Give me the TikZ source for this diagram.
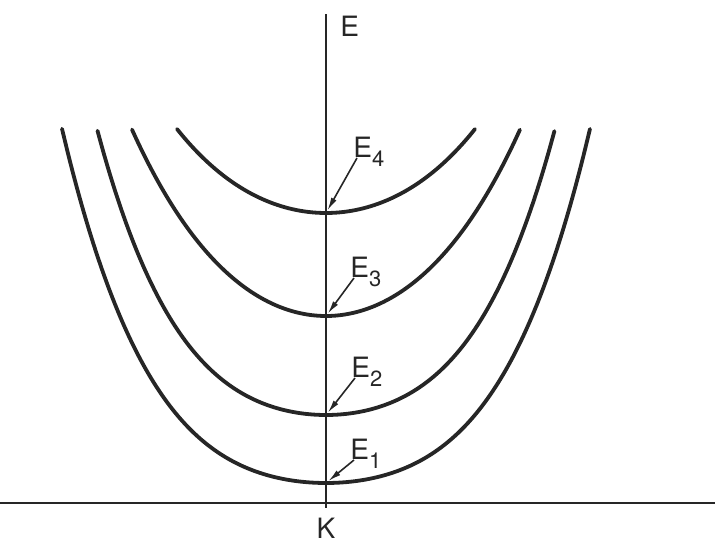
\documentclass[tikz,border=0pt]{standalone}
\usepackage{fontspec}
\setmainfont{TeX Gyre Heros}
\usepackage{tikz}
\usetikzlibrary{arrows.meta, positioning}
\newcommand{\lvl}[1]{E\raisebox{-4.5pt}{\fontsize{11pt}{12pt}\selectfont #1}}
\tikzset{
	band/.style ={line width=1.9pt, black!85, line cap=round},
	axis/.style ={line width=1.1pt, black!85},
	lbl/.style  ={font=\fontsize{14pt}{16pt}\selectfont, inner sep=1pt, anchor=base west, text=black!85},
	ptr/.style  ={-{Latex[length=6.5pt, width=3pt]}, line width=0.8pt, black!85, shorten >=1.5pt},
}
\begin{document}
\begin{tikzpicture}[x=0.5pt, y=0.5pt]
	\useasboundingbox (0,0) rectangle (715,544);
	\draw[axis] (0,41) -- (715,41);
	\draw[axis] (326,36) -- (326,530);
	\node[lbl] (eaxis) at (338,507) {E};
	\node[lbl, anchor=base] (kaxis) at (326,5) {K};
	% energy bands
	\foreach \ymin/\A/\B/\w in {61/21.27/4.24/2.64, 129/27.08/5.24/2.285, 228/42/2.0/1.94, 331/33.5/1.95/1.49}
		\draw[band] plot[domain=-\w:\w, samples=81, smooth] ({326+100*\x}, {\ymin+\A*\x*\x+\B*\x*\x*\x*\x});
	\coordinate (m1) at (326,61);
	\coordinate (m2) at (326,129);
	\coordinate (m3) at (326,228);
	\coordinate (m4) at (326,331);
	\node[lbl] (l1) at (348,84) {\lvl{1}};
	\node[lbl] (l2) at (349,166) {\lvl{2}};
	\node[lbl] (l3) at (348,266) {\lvl{3}};
	\node[lbl] (l4) at (351,386) {\lvl{4}};
	\foreach \i in {1,...,4}
		\draw[ptr] ([xshift=3pt]l\i.base west) -- (m\i);
\end{tikzpicture}
\end{document}
